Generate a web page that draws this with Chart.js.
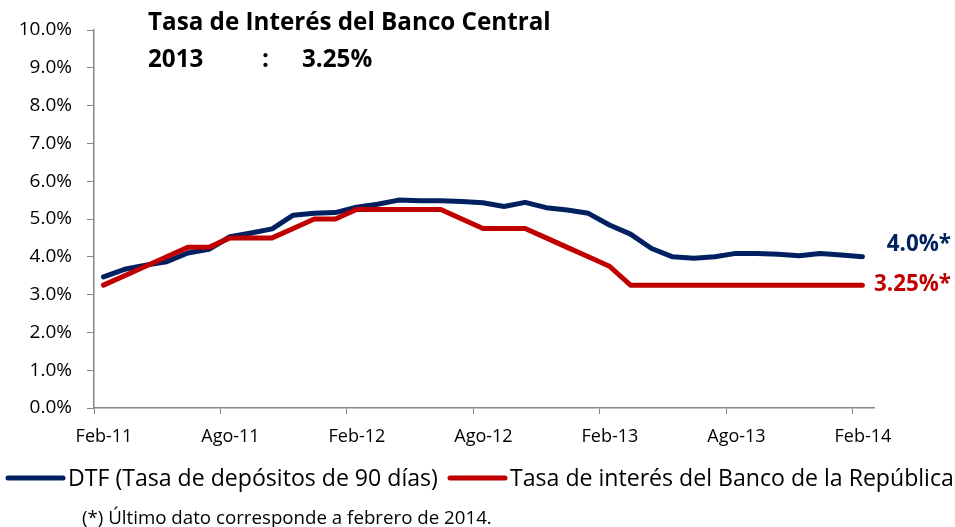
<!DOCTYPE html>
<html>
<head>
<meta charset="utf-8">
<script src="https://cdn.jsdelivr.net/npm/chart.js@4.4.0/dist/chart.umd.min.js"></script>
<style>
  body { margin: 0; background: #fff; }
  #graph0 { display: block; }
</style>
</head>
<body>
<canvas id="graph0" width="955" height="527"></canvas>
<script>
// DATA
const months = ['Feb-11', 'Mar-11', 'Abr-11', 'May-11', 'Jun-11', 'Jul-11', 'Ago-11', 'Sep-11', 'Oct-11', 'Nov-11', 'Dic-11',
    'Ene-12', 'Feb-12', 'Mar-12', 'Abr-12', 'May-12', 'Jun-12', 'Jul-12', 'Ago-12', 'Sep-12', 'Oct-12', 'Nov-12', 'Dic-12',
    'Ene-13', 'Feb-13', 'Mar-13', 'Abr-13', 'May-13', 'Jun-13', 'Jul-13', 'Ago-13', 'Sep-13', 'Oct-13', 'Nov-13', 'Dic-13',
    'Ene-14', 'Feb-14']
const tickLabels = ['Feb-11', 'Ago-11', 'Feb-12', 'Ago-12', 'Feb-13', 'Ago-13', 'Feb-14']

const dtf = [3.47, 3.67, 3.78, 3.87, 4.10, 4.20, 4.53, 4.63, 4.74, 5.10, 5.15,
    5.17, 5.31, 5.39, 5.50, 5.48, 5.48, 5.46, 5.43, 5.33, 5.44, 5.30, 5.24,
    5.15, 4.84, 4.60, 4.22, 4.00, 3.96, 4.00, 4.09, 4.09, 4.07, 4.03, 4.09,
    4.05, 4.00]
const banrep = [3.25, 3.50, 3.75, 4.00, 4.25, 4.25, 4.50, 4.50, 4.50, 4.75, 5.00,
    5.00, 5.25, 5.25, 5.25, 5.25, 5.25, 5.00, 4.75, 4.75, 4.75, 4.50, 4.25,
    4.00, 3.75, 3.25, 3.25, 3.25, 3.25, 3.25, 3.25, 3.25, 3.25, 3.25, 3.25,
    3.25, 3.25]

const seriesNames = ['DTF (Tasa de depósitos de 90 días)', 'Tasa de interés del Banco de la República']
const endLabels = ['4.0%*', '3.25%*']
const titleLines = ['Tasa de Interés del Banco Central', '2013', ':', '3.25%']
const footnote = '(*) Último dato corresponde a febrero de 2014.'

const NAVY = '#002060'
const RED = '#C00000'
const AXIS = '#868686'
const FONT = "'Open Sans', 'Noto Sans', sans-serif"

// points sit in the middle of each month on the date axis
const toPoints = arr => arr.map((v, i) => ({ x: i + 0.45, y: v }))

// font size that makes a text fill a given width
function fitFont(ctx, text, weight, width) {
    ctx.font = weight + ' 20px ' + FONT
    return 20 * width / ctx.measureText(text).width
}

// EXTRA TEXT (title, end labels, legend, footnote)
const decorations = {
    id: 'decorations',
    afterDraw(chart) {
        const ctx = chart.ctx
        const y = chart.scales.y
        ctx.save()
        ctx.textBaseline = 'alphabetic'
        ctx.fillStyle = '#000'

        // title
        let size = fitFont(ctx, titleLines[0], 'bold', 403)
        ctx.font = 'bold ' + size + 'px ' + FONT
        ctx.fillText(titleLines[0], 148, 30)
        ctx.fillText(titleLines[1], 148, 67)
        ctx.fillText(titleLines[2], 262, 67)
        ctx.fillText(titleLines[3], 302, 67)

        // values at the end of the lines
        ctx.textBaseline = 'middle'
        size = fitFont(ctx, endLabels[1], 'bold', 77)
        ctx.font = 'bold ' + size + 'px ' + FONT
        ctx.textAlign = 'right'
        ctx.fillStyle = NAVY
        ctx.fillText(endLabels[0], 951, y.getPixelForValue(dtf[dtf.length - 1]) - 12)
        ctx.fillStyle = RED
        ctx.fillText(endLabels[1], 951, y.getPixelForValue(banrep[banrep.length - 1]) - 1)

        // legend
        ctx.textAlign = 'left'
        ctx.lineWidth = 5
        ctx.lineCap = 'round'
        size = fitFont(ctx, seriesNames[0], 'normal', 370)
        ctx.font = size + 'px ' + FONT
        const legend = [[8, 63, 68, NAVY, seriesNames[0]], [450, 505, 510, RED, seriesNames[1]]]
        for (const [x0, x1, tx, color, name] of legend) {
            ctx.strokeStyle = color
            ctx.beginPath()
            ctx.moveTo(x0, 478)
            ctx.lineTo(x1, 478)
            ctx.stroke()
            ctx.fillStyle = '#000'
            ctx.fillText(name, tx, 479)
        }

        // footnote
        ctx.textBaseline = 'alphabetic'
        size = fitFont(ctx, footnote, 'normal', 410)
        ctx.font = size + 'px ' + FONT
        ctx.fillText(footnote, 82, 524)
        ctx.restore()
    }
}

// GRAPH
const ctx = document.getElementById('graph0').getContext('2d')

const graph0 = new Chart(ctx, {
    type: 'line',
    data: {
        datasets: [
            {
                label: seriesNames[0],
                data: toPoints(dtf),
                borderColor: NAVY,
                borderWidth: 5,
                order: 2
            },
            {
                label: seriesNames[1],
                data: toPoints(banrep),
                borderColor: RED,
                borderWidth: 5,
                order: 1
            }
        ]
    },
    options: {
        responsive: false,
        animation: false,
        layout: { padding: { top: 30, right: 81, bottom: 0, left: 0 } },
        elements: {
            point: { radius: 0 },
            line: { tension: 0, borderCapStyle: 'round', borderJoinStyle: 'round' }
        },
        plugins: {
            legend: { display: false },
            tooltip: { enabled: false }
        },
        scales: {
            x: {
                type: 'linear',
                min: 0,
                max: 37,
                afterFit: s => { s.height = 119 },
                ticks: {
                    stepSize: 6,
                    includeBounds: false,
                    autoSkip: false,
                    maxRotation: 0,
                    labelOffset: 10,
                    padding: 12,
                    color: '#000',
                    font: { family: FONT, size: 18 },
                    callback: v => tickLabels[v / 6]
                },
                grid: { drawOnChartArea: false, tickLength: 6, color: AXIS },
                border: { color: AXIS, width: 1.5 }
            },
            y: {
                min: 0,
                max: 10,
                afterFit: s => { s.width = 94 },
                ticks: {
                    stepSize: 1,
                    padding: 15,
                    color: '#000',
                    font: { family: FONT, size: 19 },
                    callback: v => v.toFixed(1) + '%'
                },
                grid: { drawOnChartArea: false, tickLength: 7, color: AXIS },
                border: { color: AXIS, width: 1.5 }
            }
        }
    },
    plugins: [decorations]
})
</script>
</body>
</html>
